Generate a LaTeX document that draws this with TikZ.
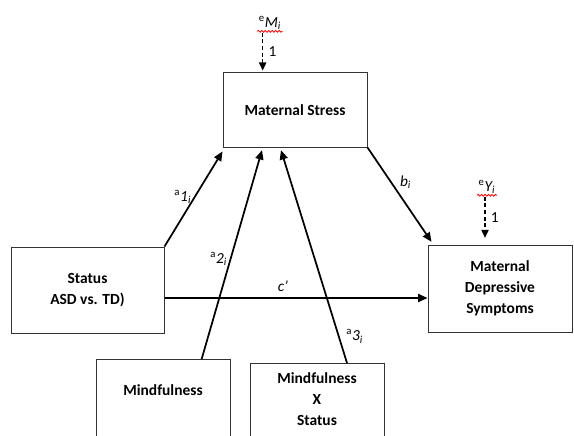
\documentclass[tikz,border=0pt]{standalone}
\usepackage{fontspec}
\setmainfont{Carlito}
\usetikzlibrary{arrows.meta, decorations.pathmorphing}
\tikzstyle{block} = [rectangle, draw=black!80, line width=0.75pt, text centered, align=center, font=\fontsize{11.6}{15.7}\selectfont\bfseries]
\tikzstyle{arrow} = [line width=1.3pt, ->, >={Triangle[length=7pt,width=6pt]}]
\tikzstyle{errarrow} = [line width=0.8pt, dash pattern=on 3pt off 2pt, ->, >={Triangle[length=6pt,width=5.5pt]}]
\tikzstyle{coef} = [font=\fontsize{11.5}{13}\selectfont, inner sep=2pt]
\tikzstyle{squiggle} = [red, line width=0.6pt, decorate, decoration={snake, amplitude=0.7pt, segment length=2.6pt}]

\begin{document}
\begin{tikzpicture}[x=0.75pt, y=-0.75pt]
               \useasboundingbox (0,0) rectangle (574,435);
               \node [block, minimum width=108pt, minimum height=55.5pt] at (295,110) (stress) {Maternal Stress};
               \node [block, minimum width=114.75pt, minimum height=64.5pt] at (87.5,290) (status) {Status\\ASD vs. TD)};
               \node [block, minimum width=108pt, minimum height=65.25pt] at (500,288.5) (mds) {Maternal\\Depressive\\Symptoms};
               \node [block, minimum width=100.5pt, anchor=north, inner sep=3pt, text height=24pt, text depth=80pt] at (163,359) (mind) {Mindfulness};
               \node [block, minimum width=100.5pt, anchor=north, inner sep=3pt, text height=43.4pt, text depth=60pt] at (317,363) (mxs) {Mindfulness\\X\\Status};
               \node [coef] at (270,23) (em) {\textsuperscript{e}\textit{M\textsubscript{i}}};
               \node [coef] at (487,187) (ey) {\textsuperscript{e}\textit{Y\textsubscript{i}}};
               \draw [squiggle] ([xshift=1pt,yshift=1pt]em.south west) -- ([xshift=-1pt,yshift=1pt]em.south east);
               \draw [squiggle] ([xshift=1pt,yshift=1pt]ey.south west) -- ([xshift=-1pt,yshift=1pt]ey.south east);
               \draw [errarrow] ([xshift=-5.5pt]em.south) -- node[coef, right=2pt] {1} ([xshift=-5.5pt,yshift=1.5pt]em.south |- stress.north);
               \draw [errarrow] ([xshift=-1.5pt]ey.south) -- node[coef, right=2pt] {1} ([xshift=-1.5pt,yshift=5pt]ey.south |- mds.north);
               \draw [arrow] (status.north east) -- node[coef, pos=0.52, left] {\textsuperscript{a}\textit{1\textsubscript{i}}} ([yshift=-3pt]stress.south west);
               \draw [arrow] ([xshift=29pt]mind.north) -- node[coef, pos=0.48, left] {\textsuperscript{a}\textit{2\textsubscript{i}}} ([xshift=-24.75pt,yshift=-2pt]stress.south);
               \draw [arrow] ([xshift=22.5pt]mxs.north) -- node[coef, pos=0.125, right=3pt] {\textsuperscript{a}\textit{3\textsubscript{i}}} ([xshift=-10.5pt,yshift=-2pt]stress.south);
               \draw [arrow] (stress.south east) -- node[coef, pos=0.37, right=4pt] {\textit{b\textsubscript{i}}} ([xshift=3pt,yshift=2pt]mds.north west);
               \draw [arrow] ([yshift=-6pt]status.east) -- node[coef, pos=0.45, above=2pt] {\textit{c'}} ([yshift=-6pt]status.east -| mds.west);
\end{tikzpicture}
\end{document}
